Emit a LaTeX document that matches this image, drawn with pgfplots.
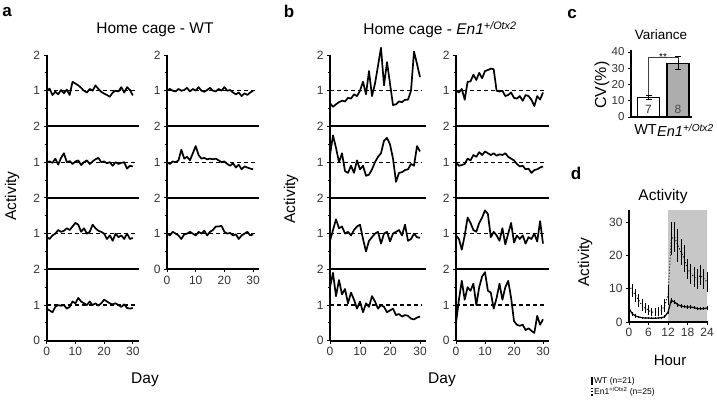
\documentclass[border=0pt]{standalone}
\usepackage{pgfplots}
\pgfplotsset{compat=1.18}
\usepackage{pgfplotstable}
\usepackage{fontspec}
\setmainfont{Liberation Sans}
\newcommand{\fs}[1]{\fontsize{#1}{#1}\selectfont}

\pgfplotstableread{
d a1 a2 a3 a4 a5 a6 a7 b1 b2 b3 b4 b5 b6 b7 b8
0 1.00 1.00 0.90 0.90 1.00 1.00 1.00 0.65 1.20 0.80 1.50 1.00 1.00 0.95 0.50
1 1.06 1.02 0.85 0.85 1.05 0.95 0.95 0.55 1.75 1.10 1.90 0.95 0.90 0.85 1.15
2 0.88 0.98 0.95 0.80 1.00 1.02 1.05 0.62 1.40 1.40 1.25 1.05 0.92 0.55 1.68
3 0.97 1.10 1.00 0.95 0.98 1.00 1.00 0.68 1.00 1.15 1.70 0.75 0.95 0.95 1.15
4 0.90 0.93 1.10 1.00 1.05 1.05 0.95 0.72 1.25 1.20 1.30 1.25 1.10 1.45 1.50
5 1.02 1.12 1.05 0.98 1.00 1.35 0.85 0.70 0.75 1.00 1.45 1.26 1.05 1.30 1.40
6 0.93 1.25 1.08 1.00 1.02 1.10 0.98 0.80 0.70 1.05 1.05 1.45 1.20 1.10 1.60
7 1.03 1.00 1.15 0.90 1.08 1.15 1.00 0.78 0.90 0.95 1.35 1.30 1.15 1.05 1.00
8 0.88 1.03 1.10 0.95 0.98 1.05 1.05 0.90 0.70 1.10 1.15 1.50 1.28 1.30 1.50
9 1.25 0.95 1.20 1.10 1.05 1.25 1.00 0.85 1.05 1.20 0.90 1.35 1.20 1.45 1.80
10 1.20 1.02 1.30 1.05 1.00 1.45 0.95 1.00 0.80 1.25 1.10 1.55 1.30 1.65 1.92
11 1.15 1.05 1.25 1.20 1.10 1.20 1.05 1.25 0.90 0.85 0.80 1.58 1.25 1.55 1.40
12 1.08 0.92 1.05 1.10 1.00 1.10 1.00 0.90 0.62 0.50 1.05 1.62 1.20 0.90 1.35
13 1.00 1.00 1.15 1.05 0.97 1.12 1.08 1.55 0.65 0.80 0.95 1.60 1.25 1.05 0.90
14 0.95 1.05 1.00 1.00 1.02 1.08 0.95 0.85 0.80 0.90 1.25 1.00 1.18 0.95 1.20
15 1.05 0.95 1.05 1.10 1.08 1.10 1.05 1.20 1.00 1.00 1.10 0.98 1.22 0.80 1.60
16 1.00 1.02 1.25 1.00 1.00 1.08 1.10 1.70 1.15 1.05 0.90 1.00 1.20 1.15 1.15
17 1.15 1.08 1.15 1.05 0.98 1.10 1.20 2.20 1.25 0.72 1.00 0.85 1.25 0.70 1.50
18 1.05 1.12 1.08 0.98 1.05 1.05 1.20 1.15 1.60 1.00 0.95 0.88 1.15 1.00 1.68
19 0.97 1.00 1.05 1.05 1.00 1.00 1.22 1.80 1.68 1.05 0.80 0.95 1.10 1.30 1.20
20 0.92 1.02 1.00 1.15 1.10 1.02 1.05 1.20 1.50 0.78 0.85 0.80 1.05 0.75 0.55
21 0.88 0.97 0.85 1.10 1.00 0.95 1.00 0.60 1.10 1.00 0.90 0.78 0.95 0.95 0.45
22 0.83 1.00 0.95 1.05 1.02 0.90 1.02 0.62 0.45 1.05 0.72 0.85 0.88 0.85 0.42
23 0.95 0.90 0.80 1.02 0.95 0.97 0.95 0.70 0.70 1.10 0.75 0.72 0.90 0.95 0.45
24 1.00 1.00 1.00 1.05 0.90 0.85 0.98 0.68 0.72 0.95 0.68 0.88 0.80 0.72 0.30
25 0.98 0.95 0.90 1.00 0.95 0.93 0.85 0.75 0.78 1.25 0.72 0.85 0.82 0.90 0.35
26 1.10 0.98 0.95 0.95 0.85 0.80 0.95 0.75 0.80 0.80 0.70 0.75 0.70 0.85 0.28
27 0.95 1.00 0.85 1.02 0.93 0.88 1.00 1.00 0.95 0.85 0.62 0.57 0.78 1.00 0.22
28 1.10 0.82 1.00 0.92 0.88 0.85 1.05 2.10 0.90 1.00 0.60 0.85 0.80 0.78 0.70
29 1.02 0.90 0.85 0.90 0.95 0.82 0.95 1.75 1.45 0.90 0.65 0.75 0.85 1.35 0.45
30 0.87 0.88 0.88 0.92 1.00 0.80 0.98 1.38 1.30 0.88 0.68 0.95 0.88 0.72 0.60
}\tsdata

\pgfplotstableread{
h WT eWT EN eEN
0 4.0 1.0 11.0 4.0
1 2.5 0.6 9.5 2.0
2 1.8 0.5 8.0 2.0
3 1.5 0.4 6.5 2.0
4 1.3 0.3 5.0 1.8
5 1.2 0.3 4.2 1.5
6 1.2 0.3 3.5 1.5
7 1.1 0.3 3.0 1.3
8 1.1 0.3 3.0 1.3
9 1.2 0.3 3.2 1.3
10 1.3 0.3 3.5 1.5
11 1.6 0.4 5.0 2.0
12 3.0 0.6 8.0 3.0
13 6.5 0.8 25.0 5.0
14 6.0 0.7 25.5 4.5
15 5.2 0.6 23.0 5.0
16 4.8 0.5 21.0 4.0
17 4.6 0.5 19.0 4.0
18 4.5 0.5 16.0 3.0
19 4.5 0.5 14.5 3.0
20 4.3 0.5 13.5 3.0
21 4.0 0.5 13.0 3.0
22 4.0 0.5 14.0 3.0
23 4.0 0.5 13.0 3.0
24 4.2 0.5 12.0 3.0
}\hourdata

\pgfplotsset{
  every axis/.append style={/pgf/number format/assume math mode=true},
  ts/.style={scale only axis, height=71.45pt, xmin=0, xmax=32, ymin=0, ymax=2,
    axis x line=bottom, axis y line=left,
    axis line style={-, line width=1.9pt, black},
    ytick={1,2}, minor ytick={0.5,1.5}, xtick=\empty,
    tick align=outside, major tick length=3pt, minor tick length=2pt,
    every tick/.style={black, line width=0.9pt},
    ticklabel style={font=\fs{12}, text=black!80},
    clip=false, anchor=south west},
  tsbot/.style={ytick={0,1,2}, xtick={0,10,20,30}},
  dl/.style={line width=1.3pt, dash pattern=on 4pt off 3pt, black},
  dat/.style={line width=1.7pt, black, line join=round, mark=none},
}
\newcommand{\tsplot}[1]{\addplot[dl] coordinates {(0,1) (30.6,1)};
  \addplot[dat] table[x=d,y=#1]{\tsdata};}

\begin{document}
\begin{tikzpicture}
\useasboundingbox (0pt,0pt) rectangle (717pt,-406pt);

% ---------- panel a ----------
\begin{axis}[ts, width=91.84pt, at={(46.7pt,-126.45pt)}] \tsplot{a1} \end{axis}
\begin{axis}[ts, width=91.84pt, at={(46.7pt,-197.9pt)}] \tsplot{a2} \end{axis}
\begin{axis}[ts, width=91.84pt, at={(46.7pt,-269.35pt)}] \tsplot{a3} \end{axis}
\begin{axis}[ts, tsbot, width=91.84pt, at={(46.7pt,-340.8pt)}] \tsplot{a4} \end{axis}
\begin{axis}[ts, width=91.84pt, at={(167pt,-126.45pt)}] \tsplot{a5} \end{axis}
\begin{axis}[ts, width=91.84pt, at={(167pt,-197.9pt)}] \tsplot{a6} \end{axis}
\begin{axis}[ts, tsbot, width=91.84pt, at={(167pt,-269.35pt)}] \tsplot{a7} \end{axis}

% ---------- panel b ----------
\begin{axis}[ts, width=96pt, at={(330pt,-126.45pt)}] \tsplot{b1} \end{axis}
\begin{axis}[ts, width=96pt, at={(330pt,-197.9pt)}] \tsplot{b2} \end{axis}
\begin{axis}[ts, width=96pt, at={(330pt,-269.35pt)}] \tsplot{b3} \end{axis}
\begin{axis}[ts, tsbot, width=96pt, at={(330pt,-340.8pt)}] \tsplot{b4} \end{axis}
\begin{axis}[ts, width=92.8pt, at={(456pt,-126.45pt)}] \tsplot{b5} \end{axis}
\begin{axis}[ts, width=92.8pt, at={(456pt,-197.9pt)}] \tsplot{b6} \end{axis}
\begin{axis}[ts, width=92.8pt, at={(456pt,-269.35pt)}] \tsplot{b7} \end{axis}
\begin{axis}[ts, tsbot, width=92.8pt, at={(456pt,-340.8pt)}] \tsplot{b8} \end{axis}

% ---------- panel c ----------
\begin{axis}[scale only axis, width=61pt, height=67.4pt, xmin=0, xmax=61, ymin=0, ymax=41.5,
  at={(631pt,-117pt)}, anchor=south west, axis x line=bottom, axis y line=left,
  axis line style={-, line width=1.9pt, black}, xtick=\empty, ytick={0,10,20,30,40},
  tick align=outside, major tick length=3pt, every tick/.style={black, line width=0.9pt},
  ticklabel style={font=\fs{11.5}, text=black!80}, clip=false]
\addplot[ybar, bar width=22pt, bar shift=0pt, fill=white, draw=black, line width=1.5pt,
  error bars/.cd, y dir=both, y explicit, error bar style={line width=1pt, black},
  error mark options={rotate=90, mark size=3pt, line width=1pt}]
  coordinates {(17.5,12) +- (0,1)};
\addplot[ybar, bar width=22pt, bar shift=0pt, fill=black!32, draw=black, line width=1.5pt,
  error bars/.cd, y dir=both, y explicit, error bar style={line width=1pt, black},
  error mark options={rotate=90, mark size=3pt, line width=1pt}]
  coordinates {(47,33) +- (0,4)};
\draw[line width=0.6pt, black!75] (axis cs:17.5,13.5) -- (axis cs:17.5,36.5) -- (axis cs:47,36.5) -- (axis cs:47,35);
\node[font=\fs{10}, inner sep=0.5pt] at (axis cs:32,37.2) {**};
\node[font=\fs{12}, text=black!80] at (axis cs:17.5,4.6) {7};
\node[font=\fs{12}, text=black!70] at (axis cs:47,4.6) {8};
\end{axis}
\node[font=\fs{14.5}, anchor=east, inner sep=0pt] at (657pt,-130pt) {WT};
\node[font=\fs{14.5}, anchor=west, inner sep=0pt] at (657pt,-130pt) {\textit{En1}\textsuperscript{\textit{+/Otx2}}};

% ---------- panel d ----------
\begin{axis}[scale only axis, width=79pt, height=112pt, xmin=0, xmax=24.3, ymin=0, ymax=33.6,
  at={(629pt,-322pt)}, anchor=south west, axis x line=bottom, axis y line=left,
  axis line style={-, line width=1.9pt, black}, xtick={0,6,12,18,24}, ytick={0,10,20,30},
  tick align=outside, major tick length=3pt, every tick/.style={black, line width=0.9pt},
  ticklabel style={font=\fs{12}, text=black!80}, clip=false, axis on top]
\addplot[fill=black!22, draw=none] coordinates {(12,0) (12,33.6) (24,33.6) (24,0)} \closedcycle;
\addplot[black, line width=1.2pt, mark=none, error bars/.cd, y dir=both, y explicit,
  error bar style={line width=0.7pt, solid}, error mark=none]
  table[x=h, y=WT, y error=eWT]{\hourdata};
\addplot[black, line width=1pt, dotted, mark=none, error bars/.cd, y dir=both, y explicit,
  error bar style={line width=0.8pt, solid}, error mark=none]
  table[x=h, y=EN, y error=eEN]{\hourdata};
\end{axis}

% ---------- texts ----------
\node[font=\bfseries\fs{17}] at (7pt,-12pt) {a};
\node[font=\bfseries\fs{17}] at (289pt,-11pt) {b};
\node[font=\bfseries\fs{17}] at (572pt,-14pt) {c};
\node[font=\bfseries\fs{17}] at (576pt,-173pt) {d};

\node[font=\fs{15.5}] at (155pt,-30pt) {Home cage - WT};
\node[font=\fs{15.5}] at (440pt,-30pt) {Home cage - \textit{En1}\textsuperscript{\textit{+/Otx2}}};
\node[font=\fs{15.5}, rotate=90] at (12pt,-196pt) {Activity};
\node[font=\fs{15.5}, rotate=90] at (291pt,-199pt) {Activity};
\node[font=\fs{15.5}] at (145pt,-380pt) {Day};
\node[font=\fs{15.5}] at (442pt,-380pt) {Day};

\node[font=\fs{13.5}] at (661pt,-35pt) {Variance};
\node[font=\fs{16}, rotate=90] at (602pt,-85pt) {CV(\%)};

\node[font=\fs{15.5}] at (663pt,-196pt) {Activity};
\node[font=\fs{15.5}, rotate=90] at (585pt,-262pt) {Activity};
\node[font=\fs{15}] at (670pt,-360pt) {Hour};

\draw[line width=1.4pt] (592pt,-377pt) -- (592pt,-385pt);
\node[font=\fs{8.5}, anchor=west, inner sep=1pt] at (593pt,-381pt) {WT (n=21)};
\draw[line width=1.2pt, dotted] (592pt,-388pt) -- (592pt,-396pt);
\node[font=\fs{8.5}, anchor=west, inner sep=1pt] at (593pt,-392pt) {En1\textsuperscript{+/Otx2} (n=25)};
\end{tikzpicture}
\end{document}
